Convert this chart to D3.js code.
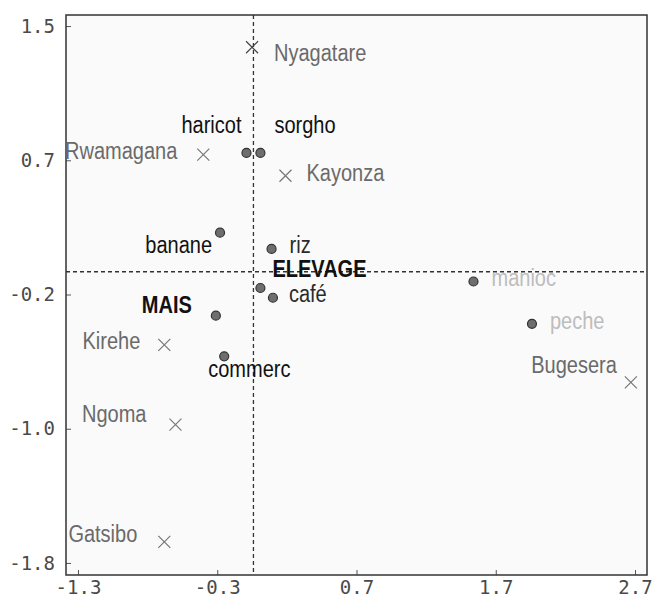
<!DOCTYPE html>
<html>
<head>
<meta charset="utf-8">
<script src="https://cdn.jsdelivr.net/npm/d3@7"></script>
<style>
  body { margin: 0; padding: 0; background: #fff; }
  .tick text { font-family: "DejaVu Sans Mono", monospace; font-size: 19px; fill: #4a4a4a; }
  .lbl { font-family: "Liberation Sans", Arial, sans-serif; font-size: 23px; }
</style>
</head>
<body>
<script>
// districts (crosses)
var districts = ["Nyagatare", "Rwamagana", "Kayonza", "Kirehe", "Ngoma", "Bugesera", "Gatsibo"];
var districtX = [-0.05, -0.40, 0.19, -0.68, -0.60, 2.67, -0.68];
var districtY = [1.37, 0.71, 0.58, -0.46, -0.95, -0.69, -1.67];

// activities (dots)
var activities = ["haricot", "sorgho", "banane", "riz", "ELEVAGE", "café", "MAIS", "commerc", "manioc", "peche"];
var activityX = [-0.09, 0.01, -0.28, 0.09, 0.01, 0.10, -0.31, -0.25, 1.54, 1.96];
var activityY = [0.72, 0.72, 0.23, 0.13, -0.11, -0.17, -0.28, -0.53, -0.07, -0.33];

// reference lines (origin)
var originX = -0.04;
var originY = -0.01;

var xTicks = [-1.3, -0.3, 0.7, 1.7, 2.7];
var xTickLabels = ["-1.3", "-0.3", "0.7", "1.7", "2.7"];
var yTicks = [1.5, 0.675, -0.15, -0.975, -1.8];
var yTickLabels = ["1.5", "0.7", "-0.2", "-1.0", "-1.8"];

// label placement (offsets from the mark, px)
var districtLbl = [
  {dx: 22, dy: 14, anchor: "start"},
  {dx: -26, dy: 4, anchor: "end"},
  {dx: 21, dy: 5, anchor: "start"},
  {dx: -24, dy: 4, anchor: "end"},
  {dx: -29, dy: -3, anchor: "end"},
  {dx: -14, dy: -9, anchor: "end"},
  {dx: -27, dy: 0, anchor: "end"}
];
var activityLbl = [
  {dx: -5, dy: -20, anchor: "end", w: 500, c: "#111"},
  {dx: 14, dy: -20, anchor: "start", w: 500, c: "#111"},
  {dx: -8, dy: 20, anchor: "end", w: 500, c: "#111"},
  {dx: 18, dy: 4, anchor: "start", w: 400, c: "#2a2a2a"},
  {dx: 12, dy: -11, anchor: "start", w: 700, c: "#111"},
  {dx: 16, dy: 4, anchor: "start", w: 400, c: "#2a2a2a"},
  {dx: -24, dy: -3, anchor: "end", w: 700, c: "#111"},
  {dx: -16, dy: 21, anchor: "start", w: 500, c: "#111"},
  {dx: 18, dy: 5, anchor: "start", w: 400, c: "#bdbdbd"},
  {dx: 18, dy: 5, anchor: "start", w: 400, c: "#bdbdbd"}
];
var squeeze = 0.87;

var W = 652, H = 604;
var mLeft = 66, mRight = 647, mTop = 15, mBottom = 575;

var svg = d3.select("body").append("svg").attr("width", W).attr("height", H);

var x = d3.scaleLinear().domain([-1.386, 2.786]).range([mLeft, mRight]);
var y = d3.scaleLinear().domain([1.568, -1.874]).range([mTop, mBottom]);

svg.append("rect").attr("x", mLeft).attr("y", mTop)
  .attr("width", mRight - mLeft).attr("height", mBottom - mTop)
  .attr("fill", "#fafafa");

// axes, ticks pointing inward
var gx = svg.append("g").attr("transform", "translate(0," + mBottom + ")")
  .call(d3.axisBottom(x).tickValues(xTicks)
    .tickFormat(function (d, i) { return xTickLabels[i]; })
    .tickSizeInner(-5).tickSizeOuter(0).tickPadding(6));
var gy = svg.append("g").attr("transform", "translate(" + mLeft + ",0)")
  .call(d3.axisLeft(y).tickValues(yTicks)
    .tickFormat(function (d, i) { return yTickLabels[i]; })
    .tickSizeInner(-5).tickSizeOuter(0).tickPadding(11));
gx.select(".domain").remove();
gy.select(".domain").remove();
svg.selectAll(".tick line").attr("stroke", "#555");

// dashed origin lines
svg.append("line").attr("x1", x(originX)).attr("x2", x(originX))
  .attr("y1", mTop).attr("y2", mBottom)
  .attr("stroke", "#333").attr("stroke-width", 1.3).attr("stroke-dasharray", "4,3");
svg.append("line").attr("x1", mLeft).attr("x2", mRight)
  .attr("y1", y(originY)).attr("y2", y(originY))
  .attr("stroke", "#333").attr("stroke-width", 1.3).attr("stroke-dasharray", "4,3");

// frame
svg.append("rect").attr("x", mLeft).attr("y", mTop)
  .attr("width", mRight - mLeft).attr("height", mBottom - mTop)
  .attr("fill", "none").attr("stroke", "#333").attr("stroke-width", 1.5);

// crosses
var s = 6;
var cross = svg.selectAll(".cross").data(districts).enter().append("g")
  .attr("transform", function (d, i) { return "translate(" + x(districtX[i]) + "," + y(districtY[i]) + ")"; });
cross.append("path").attr("d", "M" + (-s) + "," + (-s) + "L" + s + "," + s + "M" + (-s) + "," + s + "L" + s + "," + (-s))
  .attr("stroke", function (d, i) { return i === 0 ? "#444" : "#777"; })
  .attr("stroke-width", 1.2).attr("fill", "none");

svg.selectAll(".dlbl").data(districts).enter().append("text")
  .attr("class", "lbl")
  .attr("transform", function (d, i) {
    return "translate(" + (x(districtX[i]) + districtLbl[i].dx) + "," + (y(districtY[i]) + districtLbl[i].dy) + ") scale(" + squeeze + ",1)";
  })
  .attr("text-anchor", function (d, i) { return districtLbl[i].anchor; })
  .attr("fill", "#6a6a6a")
  .text(function (d) { return d; });

// dots
svg.selectAll(".dot").data(activities).enter().append("circle")
  .attr("cx", function (d, i) { return x(activityX[i]); })
  .attr("cy", function (d, i) { return y(activityY[i]); })
  .attr("r", 4.5)
  .attr("fill", "#6e6e6e").attr("stroke", "#333").attr("stroke-width", 1.2);

svg.selectAll(".albl").data(activities).enter().append("text")
  .attr("class", "lbl")
  .attr("transform", function (d, i) {
    return "translate(" + (x(activityX[i]) + activityLbl[i].dx) + "," + (y(activityY[i]) + activityLbl[i].dy) + ") scale(" + squeeze + ",1)";
  })
  .attr("text-anchor", function (d, i) { return activityLbl[i].anchor; })
  .attr("font-weight", function (d, i) { return activityLbl[i].w; })
  .attr("fill", function (d, i) { return activityLbl[i].c; })
  .text(function (d) { return d; });
</script>
</body>
</html>
